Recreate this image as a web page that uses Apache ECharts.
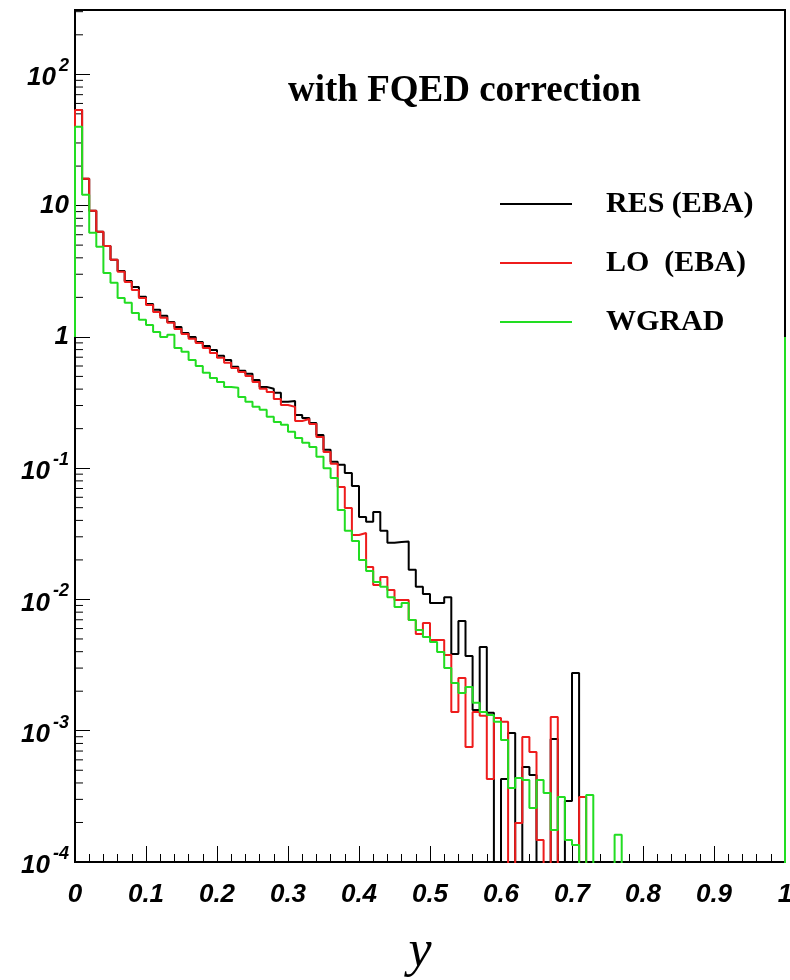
<!DOCTYPE html>
<html>
<head>
<meta charset="utf-8">
<script src="https://cdn.jsdelivr.net/npm/echarts@6/dist/echarts.min.js"></script>
<style>
  html, body { margin: 0; padding: 0; background: #fff; }
  #chart { width: 790px; height: 980px; }
</style>
</head>
<body>
<div id="chart"></div>
<script>
// histograms in y, 100 bins of width 0.01 (0 = empty bin)
const binWidth = 0.01
const resEba = [
  53.6, 16.0, 9.12, 6.31, 4.93, 3.86, 3.18, 2.67, 2.40, 2.02,
  1.78, 1.61, 1.45, 1.30, 1.19, 1.07, 1.00, 0.916, 0.854, 0.796,
  0.717, 0.668, 0.591, 0.551, 0.523, 0.470, 0.416, 0.402, 0.375, 0.320,
  0.325, 0.254, 0.241, 0.221, 0.179, 0.138, 0.112, 0.106, 0.0920, 0.0732,
  0.0425, 0.0390, 0.0464, 0.0333, 0.0270, 0.0274, 0.0276, 0.0168, 0.0125, 0.0110,
  0.0094, 0.0094, 0.0104, 0.00384, 0.00686, 0.00371, 0.00144, 0.00435, 0.00137, 0,
  0.000429, 0.000961, 0, 0.000529, 0.00046, 0, 0, 0.000865, 0, 0.000292,
  0.00275, 0, 0, 0, 0, 0, 0, 0, 0, 0,
  0, 0, 0, 0, 0, 0, 0, 0, 0, 0,
  0, 0, 0, 0, 0, 0, 0, 0, 0, 0,
]
const loEba = [
  53.6, 16.0, 9.12, 6.31, 4.93, 3.86, 3.13, 2.62, 2.28, 1.98,
  1.75, 1.55, 1.40, 1.28, 1.15, 1.05, 0.966, 0.900, 0.824, 0.755,
  0.692, 0.634, 0.580, 0.541, 0.504, 0.454, 0.402, 0.381, 0.337, 0.303,
  0.293, 0.229, 0.237, 0.217, 0.173, 0.133, 0.108, 0.0720, 0.0498, 0.0310,
  0.0321, 0.0177, 0.0129, 0.0148, 0.0118, 0.00991, 0.00991, 0.00698, 0.00546, 0.00662,
  0.00491, 0.00491, 0.00378, 0.00139, 0.00252, 0.000752, 0.00139, 0.00130, 0.000429, 0.00125,
  0.00117, 0, 0.000198, 0.000896, 0.000689, 0.000147, 0, 0.00127, 0, 0,
  0, 0.000313, 0, 0, 0, 0, 0, 0, 0, 0,
  0, 0, 0, 0, 0, 0, 0, 0, 0, 0,
  0, 0, 0, 0, 0, 0, 0, 0, 0, 0,
]
const wgrad = [
  39.8, 12.1, 6.20, 4.85, 3.07, 2.58, 1.98, 1.82, 1.52, 1.35,
  1.23, 1.09, 1.00, 1.04, 0.824, 0.769, 0.668, 0.601, 0.532, 0.487,
  0.454, 0.416, 0.409, 0.349, 0.320, 0.293, 0.278, 0.246, 0.225, 0.214,
  0.189, 0.170, 0.156, 0.145, 0.122, 0.100, 0.0843, 0.0481, 0.0333, 0.0279,
  0.0200, 0.0165, 0.0136, 0.0125, 0.0104, 0.00877, 0.0094, 0.00698, 0.00586, 0.00518,
  0.00475, 0.00398, 0.00301, 0.00231, 0.00194, 0.00215, 0.00163, 0.00139, 0.00132, 0.00117,
  0.00085, 0.000366, 0.000437, 0.000421, 0.000258, 0.000421, 0.000335, 0.000175, 0.000313, 0.000147,
  0.000135, 0, 0.000324, 0, 0, 0, 0.000161, 0, 0, 0,
  0, 0, 0, 0, 0, 0, 0, 0, 0, 0,
  0, 0, 0, 0, 0, 0, 0, 0, 0, 0,
]
const seriesNames = ['RES (EBA)', 'LO  (EBA)', 'WGRAD']
const seriesColors = ['#000000', '#ee1c1c', '#22dd22']
const yMin = 1e-4
const yMax = 309
const edgeLevel = 1 // histogram outline starts and ends at 1
const emptyLevel = 1e-8 // empty bins fall below the axis

const labelFont = { fontFamily: 'Liberation Sans', fontWeight: 'bold', fontStyle: 'italic', color: '#000' }

function histPath(values) {
  const pts = [[0, edgeLevel]]
  values.forEach((v, i) => pts.push([+(i * binWidth).toFixed(3), v > 0 ? v : emptyLevel]))
  pts.push([1, edgeLevel])
  return pts
}

// log minor ticks 2..9 per decade
const minorLogTicks = []
for (let k = -4; k <= 2; k++) {
  for (let m = 2; m <= 9; m++) {
    const v = m * Math.pow(10, k)
    if (v < yMax) minorLogTicks.push([0, v])
  }
}

const chart = echarts.init(document.getElementById('chart'))
chart.setOption({
  animation: false,
  title: {
    text: 'with FQED correction',
    left: 283,
    top: 68,
    textStyle: { fontFamily: 'Liberation Serif', fontWeight: 'bold', fontSize: 37, color: '#000' },
  },
  legend: {
    orient: 'vertical',
    left: 495,
    top: 184,
    itemWidth: 72,
    itemHeight: 2,
    itemGap: 29,
    icon: 'rect',
    data: seriesNames,
    selectedMode: false,
    textStyle: {
      fontFamily: 'Liberation Serif', fontWeight: 'bold', fontSize: 30, color: '#000',
      padding: [0, 0, 0, 29],
    },
  },
  grid: {
    left: 75, right: 5, top: 10, bottom: 118,
    outerBoundsMode: 'none',
    show: true, borderColor: '#000', borderWidth: 2,
  },
  xAxis: {
    type: 'value',
    min: 0,
    max: 1,
    interval: 0.1,
    name: 'y',
    nameLocation: 'middle',
    nameGap: 64,
    nameTextStyle: {
      fontFamily: 'Liberation Serif', fontStyle: 'italic', fontSize: 52, color: '#000',
      padding: [0, 20, 0, 0],
    },
    axisLine: { lineStyle: { color: '#000', width: 2 } },
    axisTick: { inside: true, length: 16, lineStyle: { color: '#000', width: 1 } },
    minorTick: { show: true, splitNumber: 5, length: 8, lineStyle: { color: '#000', width: 1 } },
    splitLine: { show: false },
    axisLabel: {
      ...labelFont,
      fontSize: 26,
      margin: 20,
      formatter: (v) => String(+v.toFixed(1)),
    },
  },
  yAxis: {
    type: 'log',
    logBase: 10,
    min: yMin,
    max: yMax,
    interval: 1,
    axisLine: { lineStyle: { color: '#000', width: 2 } },
    axisTick: { inside: true, length: 15, lineStyle: { color: '#000', width: 1 } },
    splitLine: { show: false },
    axisLabel: {
      margin: 6,
      showMaxLabel: false,
      formatter: (v) => {
        const e = Math.log10(v)
        const k = Math.round(e)
        if (Math.abs(e - k) > 1e-6) return ''
        if (k === 0) return '{p|1}'
        if (k === 1) return '{p|10}'
        return '{b|10}{e|' + k + '}'
      },
      rich: {
        p: { ...labelFont, fontSize: 26 },
        b: { ...labelFont, fontSize: 26, verticalAlign: 'bottom' },
        e: { ...labelFont, fontSize: 18, verticalAlign: 'top', padding: [0, 0, 16, 3] },
      },
    },
  },
  series: [
    ...[resEba, loEba, wgrad].map((vals, i) => ({
      name: seriesNames[i],
      type: 'line',
      step: 'end',
      symbol: 'none',
      clip: true,
      color: seriesColors[i],
      lineStyle: { color: seriesColors[i], width: 2 },
      data: histPath(vals),
      z: 2 + i,
    })),
    {
      type: 'custom',
      silent: true,
      data: minorLogTicks,
      renderItem: (params, api) => {
        const p = api.coord([0, api.value(1)])
        return {
          type: 'line',
          shape: { x1: p[0], y1: p[1], x2: p[0] + 8, y2: p[1] },
          style: { stroke: '#000', lineWidth: 1 },
        }
      },
      z: 1,
    },
  ],
})

window.addEventListener('resize', () => chart.resize())
</script>
</body>
</html>
